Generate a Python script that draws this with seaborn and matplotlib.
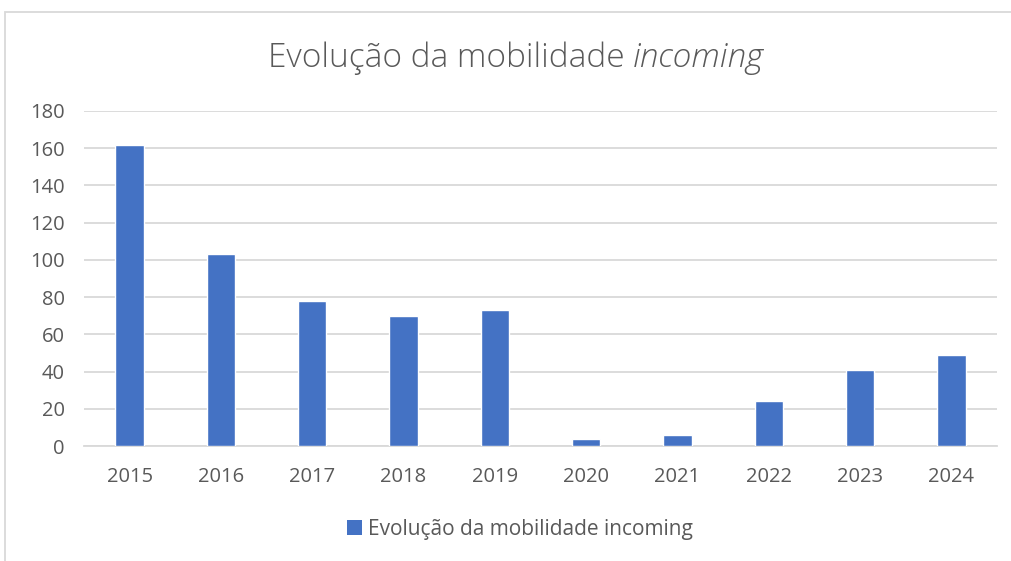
import matplotlib
matplotlib.use("Agg")
import matplotlib.pyplot as plt
import seaborn as sns
import pandas as pd
from matplotlib.patches import Rectangle, Patch

years = ["2015", "2016", "2017", "2018", "2019", "2020", "2021", "2022", "2023", "2024"]
values = [162, 103, 78, 70, 73, 4, 6, 24, 41, 49]
series_name = "Evolução da mobilidade incoming"
title_main = "Evolução da mobilidade "
title_ital = "incoming"
yticks = [0, 20, 40, 60, 80, 100, 120, 140, 160, 180]

sns.set_style("white")
plt.rcParams['font.family'] = ['Open Sans', 'DejaVu Sans']

df = pd.DataFrame({"Ano": years, "Valor": values})

fig = plt.figure(figsize=(10.12, 5.61), dpi=100)
ax = fig.add_axes([84/1012, 1-446/561, (997-84)/1012, (446-111)/561])

sns.barplot(data=df, x="Ano", y="Valor", color="#4472C4", width=0.31,
            saturation=1, ax=ax, zorder=3)

ax.set_ylim(0, 180)
ax.set_yticks(yticks)
ax.set_xlim(-0.5, len(years)-0.5)
ax.grid(axis="y", color="#D9D9D9", linewidth=1.3, zorder=0)
ax.grid(axis="x", visible=False)
for s in ["top", "right", "left"]:
    ax.spines[s].set_visible(False)
ax.spines["bottom"].set_color("#D9D9D9")
ax.spines["bottom"].set_linewidth(1.3)
ax.tick_params(axis="both", length=0, labelsize=14.5, colors="#595959")
ax.tick_params(axis="x", pad=15)
ax.tick_params(axis="y", pad=14)
ax.set_xlabel("")
ax.set_ylabel("")

# title in two parts, centred as a whole
ty = 1 - 58/561
t1 = fig.text(0, ty, title_main, ha="left", va="center", fontsize=24,
              color="#595959", fontweight="light")
t2 = fig.text(0, ty, title_ital, ha="left", va="center", fontsize=24,
              color="#595959", style="italic", fontweight="light")
fig.canvas.draw()
r = fig.canvas.get_renderer()
w1 = t1.get_window_extent(r).width
w2 = t2.get_window_extent(r).width
x0 = 516 - (w1 + w2) / 2
t1.set_x(x0 / 1012)
t2.set_x((x0 + w1) / 1012)

fig.legend(handles=[Patch(facecolor="#4472C4", edgecolor="none", label=series_name)],
           loc="center", bbox_to_anchor=(520/1012, 1-529/561), frameon=False,
           fontsize=15, labelcolor="#595959", handlelength=0.7, handleheight=0.7,
           handletextpad=0.3)

fig.patches.append(Rectangle((5/1012, -0.1), 1.2, 1-12/561+0.1,
                             transform=fig.transFigure, fill=False,
                             edgecolor="#D9D9D9", linewidth=1.3))

fig.savefig("out.png", dpi=100)
